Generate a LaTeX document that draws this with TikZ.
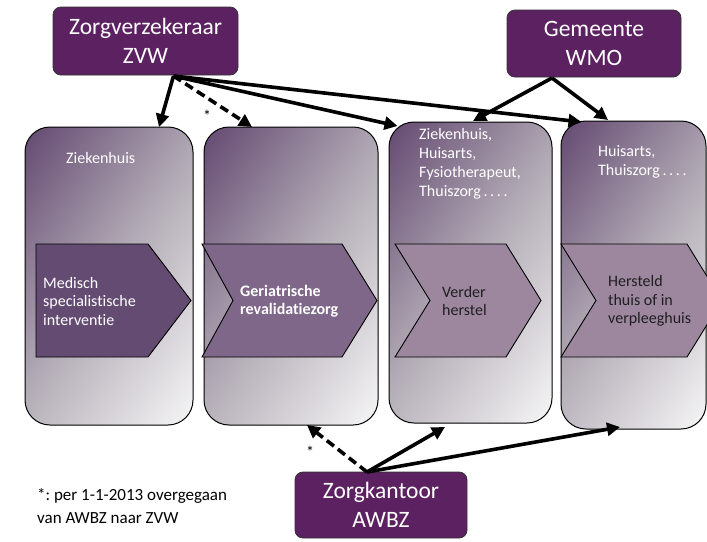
\documentclass[tikz,border=0pt]{standalone}
\usepackage{fontspec}
\setmainfont{Carlito}[Ligatures=NoCommon]
\usetikzlibrary{arrows.meta,calc}
\definecolor{orgpurple}{HTML}{5C2161}
\definecolor{colDark}{HTML}{634870}
\definecolor{colMid}{HTML}{B3ACB6}
\definecolor{colLight}{HTML}{F7F7F7}
\definecolor{chevA}{HTML}{644B72}
\definecolor{chevB}{HTML}{7E6788}
\definecolor{chevC}{HTML}{9C879F}
% corner-to-corner wash: dark purple at one corner, near white at the opposite one
\pgfdeclareverticalshading{colwash}{100bp}{color(0bp)=(colLight); color(15bp)=(colLight);
  color(50bp)=(colMid); color(85bp)=(colDark); color(100bp)=(colDark)}
\begin{document}
\frenchspacing
\begin{tikzpicture}[x=1pt,y=-1pt,
  orgbox/.style={draw=black!80, line width=0.8pt, fill=orgpurple, rounded corners=8pt,
    text=white, align=center, font=\fontsize{23.5}{29.5}\selectfont,
    inner sep=0pt, outer sep=0pt},
  column/.style={draw=black, line width=1pt, rounded corners=25pt,
    shade, shading=colwash, shading angle=55,
    inner sep=0pt, outer sep=0pt},
  chev/.style={draw=black, line width=0.9pt, line join=miter},
  coltext/.style={text=white, align=left, anchor=west, inner sep=0pt,
    font=\fontsize{16}{19}\selectfont},
  chevtext/.style={align=left, anchor=west, inner sep=0pt,
    font=\fontsize{16}{18.5}\selectfont},
  conn/.style={line width=3.6pt, -{Triangle[length=13pt,width=13pt]}},
  dashconn/.style={conn, dash pattern=on 9pt off 5pt},
  note/.style={inner sep=0pt, font=\fontsize{16}{19}\selectfont}
]
\useasboundingbox (0,0) rectangle (707,541);

% care-stage columns
\node[column, minimum width=168pt, minimum height=298pt] (col1) at (109,276) {};
\node[column, minimum width=174pt, minimum height=298pt] (col2) at (291,276) {};
\node[column, minimum width=163pt, minimum height=301pt] (col3) at (470.5,272.5) {};
\node[column, minimum width=145pt, minimum height=308pt] (col4) at (633.5,275) {};

% providers per column
\node[coltext] (prov1) at (66,158) {Ziekenhuis};
\node[coltext] (prov3) at (419,163.5) {Ziekenhuis,\\Huisarts,\\Fysiotherapeut,\\Thuiszorg\,.\,.\,.\,.};
\node[coltext] (prov4) at (598,162) {Huisarts,\\Thuiszorg\,.\,.\,.\,.};

% process chevrons
\begin{scope}
\clip (0,0) rectangle (707,541);
\draw[chev, fill=chevA] (36,244) -- (148,244) -- (191,300.5) -- (148,357) -- (36,357) -- cycle;
\draw[chev, fill=chevB] (202,244) -- (342,244) -- (377,300.5) -- (342,357) -- (202,357) -- (233,300.5) -- cycle;
\draw[chev, fill=chevC] (395,244) -- (506,244) -- (541,300.5) -- (506,357) -- (395,357) -- (430,300.5) -- cycle;
\draw[chev, fill=chevC] (561,244) -- (687,244) -- (722,300.5) -- (687,357) -- (561,357) -- (596,300.5) -- cycle;
\end{scope}

\node[chevtext, text=white] (step1) at (43,301) {Medisch\\specialistische\\interventie};
\node[chevtext, text=white, font=\fontsize{16}{18.5}\selectfont\bfseries] (step2) at (240,301) {Geriatrische\\revalidatiezorg};
\node[chevtext, text=black!88] (step3) at (442,301) {Verder\\herstel};
\node[chevtext, text=black!88] (step4) at (608,301) {Hersteld\\thuis of in\\verpleeghuis};

% funding organisations
\node[orgbox, minimum width=185pt, minimum height=68pt] (zvw) at (145.5,41) {Zorgverzekeraar\\ZVW};
\node[orgbox, minimum width=174pt, minimum height=67pt] (wmo) at (594,43.5) {Gemeente\\WMO};
\node[orgbox, minimum width=172pt, minimum height=66pt] (awbz) at (381,505) {Zorgkantoor\\AWBZ};

% financing arrows
\draw[conn] ($(zvw.south)+(28,1)$) -- ($(col1.north)+(50,0)$);
\draw[dashconn] ($(zvw.south)+(28,1)$) -- ($(col2.north)+(-39,0)$);
\draw[conn] ($(zvw.south)+(28,1)$) -- ($(col3.north)+(-73,4)$);
\draw[conn] ($(zvw.south)+(28,1)$) -- ($(col4.north)+(-52,1)$);
\draw[conn] ($(wmo.south)+(-42,1)$) -- ($(col3.north)+(2.5,-1)$);
\draw[conn] ($(wmo.south)+(-42,1)$) -- ($(col4.north)+(-25.5,-1)$);
\draw[dashconn] ($(awbz.north)+(-14,0)$) -- ($(col2.south)+(16,0)$);
\draw[conn] ($(awbz.north)+(-14,0)$) -- ($(col3.south)+(-25.5,4)$);
\draw[conn] ($(awbz.north)+(-14,0)$) -- ($(col4.south)+(-13.5,-2)$);

% footnote markers
\node[note] (star1) at (207,116) {*};
\node[note] (star2) at (310,452) {*};
\node[note, align=left, anchor=west, font=\fontsize{17}{23}\selectfont] (footnote) at (37,506.5) {*: per 1-1-2013 overgegaan\\van AWBZ naar ZVW};
\end{tikzpicture}
\end{document}
